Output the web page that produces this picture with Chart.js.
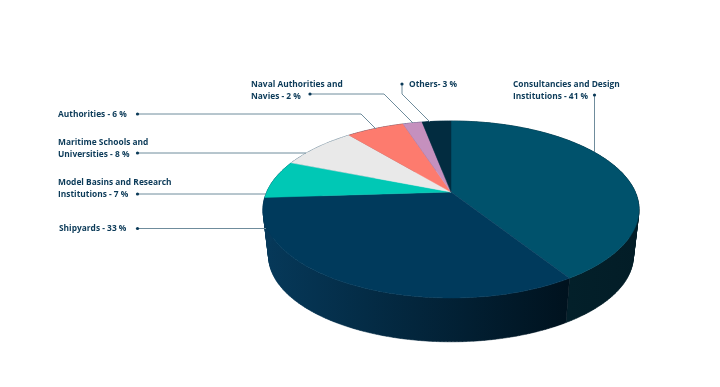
<!DOCTYPE html>
<html>
<head>
<meta charset="utf-8">
<style>
html, body { margin: 0; padding: 0; background: #fff; }
#wrap { width: 720px; height: 387px; }
</style>
<script src="https://cdn.jsdelivr.net/npm/chart.js@4"></script>
</head>
<body>
<div id="wrap"><canvas id="pie" width="720" height="387"></canvas></div>
<script>
const categories = ['Consultancies and Design Institutions', 'Shipyards', 'Model Basins and Research Institutions',
    'Maritime Schools and Universities', 'Authorities', 'Naval Authorities and Navies', 'Others'];
const shares = [41, 33, 7, 8, 6, 2, 3];
const labelLines = [
    ['Consultancies and Design', 'Institutions - 41 %'],
    ['Shipyards - 33 %'],
    ['Model Basins and Research', 'Institutions - 7 %'],
    ['Maritime Schools and', 'Universities - 8 %'],
    ['Authorities - 6 %'],
    ['Naval Authorities and', 'Navies - 2 %'],
    ['Others- 3 %']
];

// styles
const topColors = ['#00526c', '#003a5c', '#00c8b5', '#e9e9e9', '#fd7b6e', '#c590be', '#022c40'];
const wallColors = [
    ['#03252f', '#031d27'], ['#06395a', '#00121e'], ['#06395a', '#06395a'], ['#06395a', '#06395a'],
    ['#06395a', '#06395a'], ['#06395a', '#06395a'], ['#06395a', '#06395a']
];
const textColor = '#0b3a58';
const leaderColor = '#6f8c9c';
const labelFont = 'bold 8.4px "Open Sans"';

// label anchor x, first baseline y and leader polyline, same order as categories
const labelX = [513, 59, 58, 58, 58, 251, 409];
const labelY = [87, 231, 185, 145, 117, 87, 87];
const leaders = [
    [[594.5, 95], [594.5, 152]],
    [[137.5, 228.5], [266, 228.5]],
    [[137.5, 194], [266, 194]],
    [[137.5, 153], [306, 153]],
    [[137.5, 114], [361, 114], [376, 129]],
    [[310, 94], [384, 94], [413, 123]],
    [[402, 84], [402, 94], [430, 122]]
];

// the disc is seen in perspective, so the centre does not sit mid ellipse
const topFace = { cx: 451, cy: 192, a: 184.3, b: 85.04, k: -0.1977 };
const lowFace = { cx: 451, cy: 239, a: 178.8, b: 82.5, k: -0.1977 };

function project(angle, face) {
    const u = Math.cos(angle), v = Math.sin(angle);
    const w = 1 + face.k * v;
    return [face.cx + face.a * u / w, face.cy + face.b * v / w];
}

function arcPoints(start, end, face) {
    const pts = [];
    const steps = Math.max(2, Math.ceil((end - start) * 60));
    for (let i = 0; i <= steps; i++) {
        pts.push(project(start + (end - start) * i / steps, face));
    }
    return pts;
}

function addPolygon(ctx, pts) {
    pts.forEach((p, i) => i ? ctx.lineTo(p[0], p[1]) : ctx.moveTo(p[0], p[1]));
    ctx.closePath();
}

// quads must all wind the same way or the nonzero fill cancels where they overlap
function sameWinding(pts) {
    let area = 0;
    pts.forEach((p, i) => {
        const q = pts[(i + 1) % pts.length];
        area += p[0] * q[1] - q[0] * p[1];
    });
    return area < 0 ? pts.slice().reverse() : pts;
}

const disc3d = {
    id: 'disc3d',
    beforeDatasetsDraw(chart) {
        const ctx = chart.ctx;
        const arcs = chart.getDatasetMeta(0).data;
        ctx.save();
        // side wall first, the top faces cover what is behind
        arcs.forEach((arc, i) => {
            const top = arcPoints(arc.startAngle, arc.endAngle, topFace);
            const low = arcPoints(arc.startAngle, arc.endAngle, lowFace);
            const xs = top.concat(low).map(p => p[0]);
            const grad = ctx.createLinearGradient(Math.min(...xs), 0, Math.max(...xs), 0);
            grad.addColorStop(0, wallColors[i][0]);
            grad.addColorStop(1, wallColors[i][1]);
            ctx.fillStyle = grad;
            ctx.strokeStyle = grad;
            ctx.lineWidth = 0.5;
            // one path of small quads, so the outline follows the tangent between both faces
            ctx.beginPath();
            for (let s = 0; s < top.length - 1; s++) {
                addPolygon(ctx, sameWinding([top[s], top[s + 1], low[s + 1], low[s]]));
            }
            ctx.fill();
            ctx.stroke();
        });
        arcs.forEach((arc, i) => {
            const pts = arcPoints(arc.startAngle, arc.endAngle, topFace);
            pts.push([topFace.cx, topFace.cy]);
            ctx.beginPath();
            addPolygon(ctx, pts);
            ctx.fillStyle = topColors[i];
            ctx.strokeStyle = topColors[i];
            ctx.lineWidth = 0.5;
            ctx.fill();
            ctx.stroke();
        });
        ctx.restore();
        return false;
    },
    afterDraw(chart) {
        const ctx = chart.ctx;
        ctx.save();
        ctx.strokeStyle = leaderColor;
        ctx.lineWidth = 1;
        leaders.forEach(line => {
            ctx.beginPath();
            line.forEach((p, i) => i ? ctx.lineTo(p[0], p[1]) : ctx.moveTo(p[0], p[1]));
            ctx.stroke();
            ctx.beginPath();
            ctx.arc(line[0][0], line[0][1], 1.6, 0, Math.PI * 2);
            ctx.fillStyle = textColor;
            ctx.fill();
        });
        ctx.font = labelFont;
        ctx.fillStyle = textColor;
        ctx.textBaseline = 'alphabetic';
        labelLines.forEach((lines, i) => {
            lines.forEach((text, j) => ctx.fillText(text, labelX[i], labelY[i] + j * 11.5));
        });
        ctx.restore();
    }
};

new Chart(document.getElementById('pie').getContext('2d'), {
    type: 'pie',
    data: {
        labels: categories,
        datasets: [{ data: shares, backgroundColor: topColors, borderWidth: 0 }]
    },
    options: {
        responsive: false,
        animation: false,
        plugins: { legend: { display: false }, tooltip: { enabled: false } }
    },
    plugins: [disc3d]
});
</script>
</body>
</html>
